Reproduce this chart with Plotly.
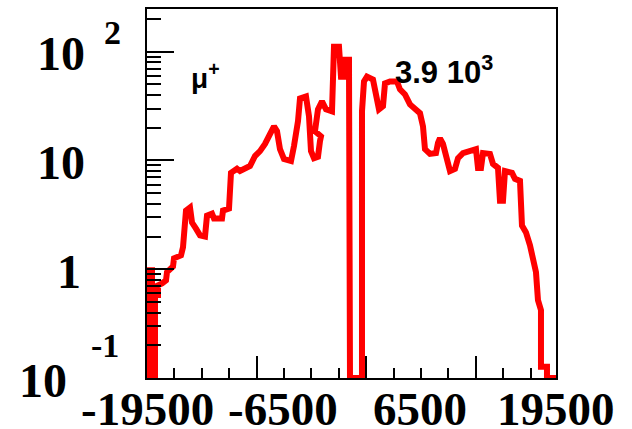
import numpy as np
import plotly.graph_objects as go

# ---- data ----
x_vals = [-19500, -19500, -19023, -19023, -18737, -18737, -18451, -18451, -18070, -17688,
          -17593, -17021, -16926, -16258, -16067, -15877, -15781, -15400, -15209, -14828,
          -14446, -13970, -13779, -13302, -13112, -12349, -12253, -11681, -11491, -10919,
          -10632, -9679, -9202, -8725, -8249, -7772, -7390, -7105, -6819, -6437,
          -5770, -5484, -5102, -4912, -4339, -4053, -3863, -3577, -3196, -3005,
          -2909, -3482, -3196, -2814, -2432, -1860, -1670, -1193, -1002, -716,
          -621, -240, -144, 1000, 1000, 1191, 1477, 2049, 2335, 2621,
          3003, 3193, 3670, 4338, 4624, 5101, 5577, 6054, 6531, 6817,
          7007, 7484, 8056, 8247, 8438, 8724, 9010, 9391, 9868, 10154,
          10631, 11298, 11870, 12061, 12347, 12538, 13205, 13491, 13968, 14159,
          14445, 14636, 15303, 15589, 16066, 16256, 16638, 17019, 17305, 17591,
          17782, 17973, 18068, 18068, 18640, 18640, 19500]
y_vals = [0.1, 0.98, 0.98, 0.1, 0.1, 0.58, 0.58, 0.71, 0.74, 0.79,
          0.94, 1.06, 1.26, 1.34, 1.59, 2.27, 3.46, 3.69, 2.69, 2.36,
          2.05, 2.0, 3.11, 3.25, 2.93, 2.93, 3.46, 3.61, 7.7, 8.4,
          8.0, 8.9, 11.0, 12.2, 14.2, 17.5, 20.6, 18.6, 12.7, 10.3,
          9.9, 13.6, 23.0, 37.2, 38.8, 25.5, 12.2, 10.5, 10.8, 15.1,
          16.7, 18.6, 29.5, 34.9, 29.5, 28.3, 111, 111, 59, 59,
          84.5, 84.5, 0.1, 0.1, 28.3, 53.2, 59, 55.5, 40.5, 29.5,
          31.5, 51.1, 53.2, 53.2, 45, 40.5, 32.8, 29.5, 27.2, 20.6,
          12.7, 11.5, 11.7, 14.5, 16.0, 14.2, 10.5, 8.0, 8.4, 10.5,
          11.7, 12.2, 12.7, 8.55, 8.55, 11.7, 11.5, 9.3, 8.55, 4.27,
          4.27, 8.0, 7.7, 6.78, 6.5, 2.52, 2.18, 1.66, 1.16, 0.94,
          0.52, 0.42, 0.42, 0.127, 0.127, 0.1, 0.1]

x_tick_values = [-19500, -6500, 6500, 19500]
x_tick_labels = ["-19500", "-6500", "6500", "19500"]
y_tick_values = [100, 10, 1, 0.1]
y_tick_bases = ["10", "10", "1", "10"]
y_tick_exponents = ["2", "", "", "-1"]

particle_label = "\u03bc<sup>+</sup>"
entries_label = "3.9 10<sup>3</sup>"

# ---- layout geometry ----
W, H = 632, 429
L, R, T, B = 147, 76, 7, 51
plot_w = W - L - R
plot_h = H - T - B

major_dx = 10450
minor_dx = major_dx / 4
x_major = list(np.arange(-19500, 19500 + 1, major_dx))
x_minor = list(np.arange(-19500, 19500 + 1, minor_dx))
y_minor = [m * 10.0 ** e for e in (-1, 0, 1) for m in range(2, 10)] + [200]

fig = go.Figure()
fig.add_trace(go.Scatter(x=x_vals, y=y_vals, mode="lines",
                         line=dict(color="#ff0000", width=6),
                         showlegend=False, hoverinfo="skip"))

serif = dict(family="Liberation Serif", color="black", weight="bold")
sans = dict(family="Liberation Sans", color="black", weight="bold")

ann = []
for v, t in zip(x_tick_values, x_tick_labels):
    ann.append(dict(x=v, xref="x", y=0, yref="paper", yanchor="middle",
                    xanchor="center", yshift=-31, height=38, text=t,
                    showarrow=False, font=dict(size=47, **serif)))

base_right_px = [87, 87, 83, 69]
exp_left_px = [102, None, None, 89]
exp_shift = [19, 0, 0, 33]
for v, b, e, rp, lp, es in zip(y_tick_values, y_tick_bases, y_tick_exponents,
                               base_right_px, exp_left_px, exp_shift):
    ann.append(dict(x=0, xref="paper", xanchor="right", xshift=rp - L,
                    y=np.log10(v), yref="y", yanchor="middle", yshift=-2,
                    text=b, showarrow=False, font=dict(size=48, **serif)))
    if e:
        ann.append(dict(x=0, xref="paper", xanchor="left", xshift=lp - L,
                        y=np.log10(v), yref="y", yanchor="middle", yshift=es,
                        text=e, showarrow=False, font=dict(size=34, **serif)))

ann.append(dict(x=(189 - L) / plot_w, xref="paper", xanchor="left",
                y=(H - B - 74) / plot_h, yref="paper", yanchor="middle",
                text=particle_label, showarrow=False, font=dict(size=28, **sans)))
ann.append(dict(x=(393 - L) / plot_w, xref="paper", xanchor="left",
                y=(H - B - 68) / plot_h, yref="paper", yanchor="middle",
                text=entries_label, showarrow=False, font=dict(size=31, **sans)))

fig.update_layout(
    width=W, height=H,
    margin=dict(l=L, r=R, t=T, b=B, pad=0),
    paper_bgcolor="white", plot_bgcolor="white",
    annotations=ann,
    xaxis=dict(range=[-19500, 19500], showgrid=False, zeroline=False,
               showline=True, linecolor="black", linewidth=2, mirror=True,
               tickmode="array", tickvals=x_major,
               ticks="inside", ticklen=22, tickwidth=1.5, tickcolor="black",
               showticklabels=False,
               minor=dict(tickmode="array", tickvals=x_minor, ticks="inside",
                          ticklen=10, tickwidth=1.5, tickcolor="black")),
    yaxis=dict(type="log", range=[-1, 2.393], showgrid=False, zeroline=False,
               showline=True, linecolor="black", linewidth=2, mirror=True,
               tickmode="array", tickvals=y_tick_values,
               ticks="inside", ticklen=27, tickwidth=1.5, tickcolor="black",
               showticklabels=False,
               minor=dict(tickmode="array", tickvals=y_minor, ticks="inside",
                          ticklen=14, tickwidth=1.5, tickcolor="black")),
)

fig.write_html("out.html",
               config={"displayModeBar": False},
               post_script="document.body.style.margin='0';"
                           "document.body.style.overflow='hidden';")
